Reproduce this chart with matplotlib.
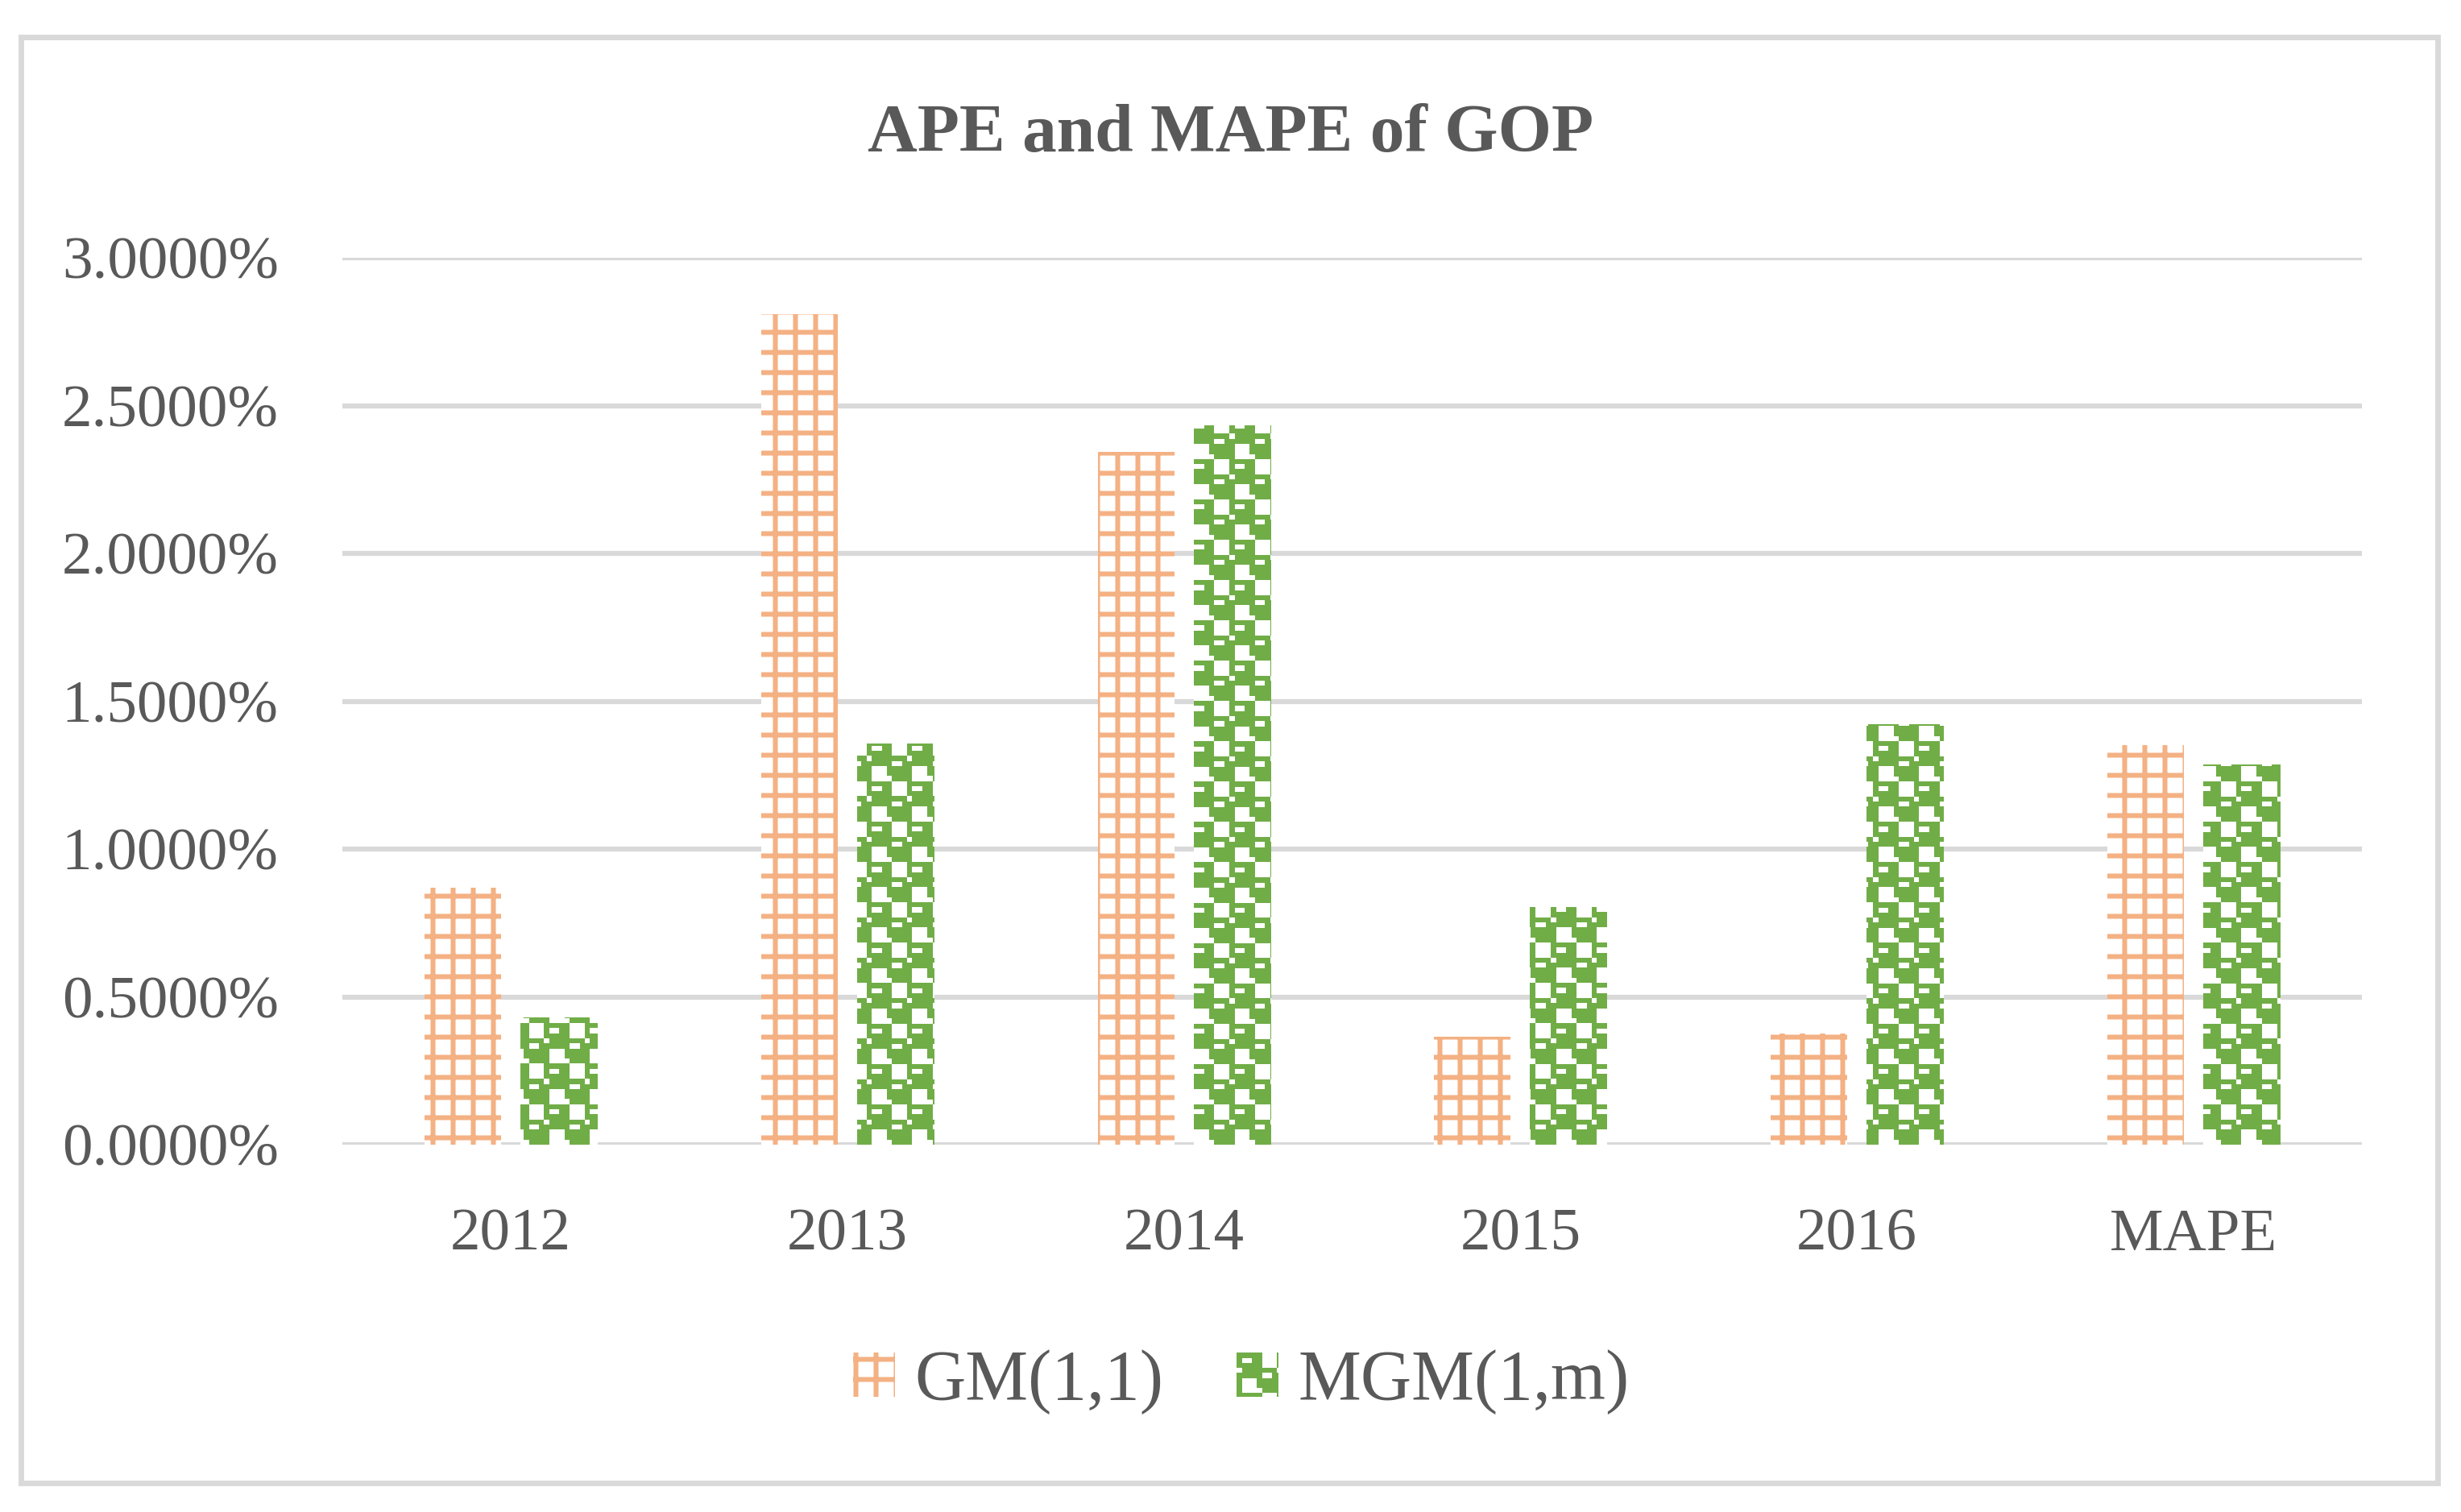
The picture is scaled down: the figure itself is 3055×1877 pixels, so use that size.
import numpy as np
import matplotlib
matplotlib.use('Agg')
import matplotlib.pyplot as plt
from matplotlib.patches import Rectangle, Patch
from matplotlib.legend_handler import HandlerBase
from matplotlib.colors import to_rgb

# ---------------- data ----------------
categories = ['2012', '2013', '2014', '2015', '2016', 'MAPE']
gm_values = [0.870, 2.808, 2.342, 0.364, 0.377, 1.352]
mgm_values = [0.431, 1.357, 2.432, 0.804, 1.423, 1.287]
series_names = ['GM(1,1)', 'MGM(1,m)']
y_ticks = [0.0, 0.5, 1.0, 1.5, 2.0, 2.5, 3.0]
title_text = 'APE and MAPE of GOP'

# ---------------- style ----------------
W, H, DPI = 3055, 1877, 150
ORANGE = '#F4B183'
GREEN = '#70AD47'
GRID = '#D9D9D9'
TEXT = '#595959'

plt.rcParams['font.family'] = ['Liberation Serif', 'DejaVu Serif']
plt.rcParams['hatch.linewidth'] = 2.9

# confetti-like fill pattern (1 = green)
tile = np.array([
    [1, 1, 1, 1, 1, 0, 0, 0],
    [1, 0, 0, 1, 1, 0, 0, 0],
    [1, 1, 1, 1, 1, 0, 0, 0],
    [0, 1, 1, 1, 1, 1, 1, 1],
    [1, 1, 1, 1, 1, 0, 0, 1],
    [1, 0, 0, 0, 1, 1, 1, 1],
    [1, 0, 0, 0, 1, 1, 1, 1],
    [1, 0, 0, 0, 0, 1, 1, 1],
])
CELL_PX = 6.25

fig = plt.figure(figsize=(W / DPI, H / DPI), dpi=DPI)
fig.patch.set_facecolor('white')

# chart border
fig.patches.append(Rectangle((25.5 / W, 1 - 1841 / H), (3026 - 25.5) / W, (1841 - 46) / H,
                             transform=fig.transFigure, fill=False,
                             edgecolor=GRID, linewidth=3.3))

ax_l, ax_r, ax_t, ax_b = 425, 2932, 320, 1421
ax = fig.add_axes([ax_l / W, 1 - ax_b / H, (ax_r - ax_l) / W, (ax_b - ax_t) / H])

x = np.arange(len(categories))
bw = 0.2274
off = 0.1424

gm_bars = ax.bar(x - off, gm_values, bw, facecolor='white', edgecolor=ORANGE,
                 hatch='+', linewidth=0, zorder=2)
mgm_bars = ax.bar(x + off, mgm_values, bw, facecolor='white', edgecolor='none',
                  linewidth=0, zorder=2)

xlim = (-0.5, len(categories) - 0.5)
ylim = (0, 3.0)

# texture for MGM bars
nc = int(round((ax_r - ax_l) / CELL_PX))
nr = int(round((ax_b - ax_t) / CELL_PX))
pat = np.tile(tile, (nr // 8 + 1, nc // 8 + 1))[:nr, :nc]
rgb = np.ones((nr, nc, 3))
rgb[pat == 1] = to_rgb(GREEN)
for bar in mgm_bars:
    im = ax.imshow(rgb, extent=(xlim[0], xlim[1], ylim[0], ylim[1]), origin='upper',
                   aspect='auto', interpolation='nearest', zorder=2.5)
    im.set_clip_path(bar)

ax.set_xlim(*xlim)
ax.set_ylim(*ylim)
ax.set_xticks(x)
ax.set_xticklabels(categories)
ax.set_yticks(y_ticks)
ax.set_yticklabels(['{:.4f}%'.format(v) for v in y_ticks])
ax.yaxis.grid(True, color=GRID, linewidth=3.0)
ax.xaxis.grid(False)
ax.set_axisbelow(True)
for s in ax.spines.values():
    s.set_visible(False)
ax.tick_params(axis='both', length=0, labelsize=36, labelcolor=TEXT)
ax.tick_params(axis='y', pad=38)
ax.tick_params(axis='x', pad=38)
ax.set_facecolor('none')

# title
fig.text(0.5, 1 - 188 / H, title_text, ha='center', va='baseline',
         fontsize=41, fontweight='bold', color=TEXT)


class ConfettiHandler(HandlerBase):
    def create_artists(self, legend, orig_handle, xdescent, ydescent, width, height,
                       fontsize, trans):
        cell = CELL_PX * 72.0 / DPI
        x0, y0 = -xdescent, -ydescent
        arts = [Rectangle((x0, y0), width, height, facecolor='white',
                          edgecolor='none', transform=trans)]
        nx = int(np.ceil(width / cell))
        ny = int(np.ceil(height / cell))
        for i in range(ny):
            for j in range(nx):
                if tile[i % 8, j % 8]:
                    cw = min(cell, width - j * cell)
                    ch = min(cell, height - i * cell)
                    arts.append(Rectangle((x0 + j * cell, y0 + height - i * cell - ch),
                                          cw, ch, facecolor=GREEN, edgecolor='none',
                                          linewidth=0, transform=trans))
        return arts


h_gm = Patch(facecolor='white', edgecolor=ORANGE, hatch='+', linewidth=0, label=series_names[0])
h_mgm = Patch(facecolor='white', edgecolor='none', label=series_names[1])
leg = fig.legend(handles=[h_gm, h_mgm], loc='center', bbox_to_anchor=(1541 / W, 1 - 1716 / H),
                 ncol=2, frameon=False, fontsize=42, handlelength=0.594, handleheight=0.583,
                 handletextpad=0.274, columnspacing=1.04, labelcolor=TEXT,
                 handler_map={h_mgm: ConfettiHandler()})

fig.savefig('out.png', dpi=DPI, facecolor='white')
